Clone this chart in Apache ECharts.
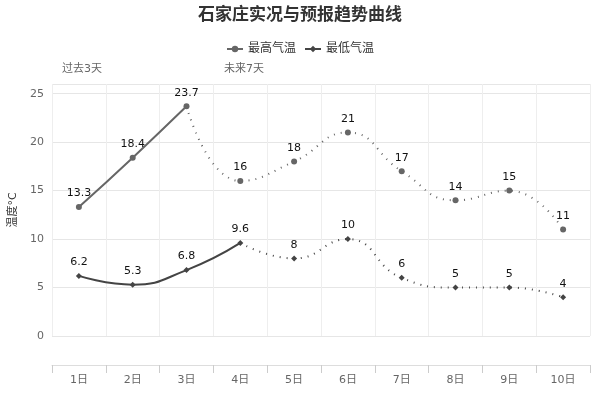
<!DOCTYPE html>
<html><head><meta charset="utf-8">
<script src="https://cdn.jsdelivr.net/npm/echarts@6/dist/echarts.min.js"></script>
<style>html,body{margin:0;padding:0}#c{width:600px;height:400px}</style>
</head><body><div id="c"></div>
<script>
const days = ['1日', '2日', '3日', '4日', '5日', '6日', '7日', '8日', '9日', '10日'];
const highs = [13.3, 18.4, 23.7, 16, 18, 21, 17, 14, 15, 11];
const lows = [6.2, 5.3, 6.8, 9.6, 8, 10, 6, 5, 5, 4];
const highSplit = 2; // last observed index for highs
const lowSplit = 3;  // last observed index for lows

const part = (arr, from, to, skipLabel) => arr.map((v, i) => {
  if (i < from || i > to) return '-';
  if (skipLabel && i === from) return { value: v, label: { show: false }, symbolSize: 0 };
  return v;
});

const chart = echarts.init(document.getElementById('c'));
const font = 'DejaVu Sans, Noto Sans CJK SC, sans-serif';
const lbl = { show: true, position: 'top', color: '#111', fontSize: 11, fontFamily: font };
chart.setOption({
  textStyle: { fontFamily: font },
  title: { text: '石家庄实况与预报趋势曲线', left: 'center', top: 2, textStyle: { fontSize: 17, fontWeight: 'bold', color: '#333' } },
  legend: { data: ['最高气温', '最低气温'], top: 38, left: 'center', itemWidth: 16, itemHeight: 8, textStyle: { fontSize: 12, color: '#333' } },
  graphic: [
    { type: 'text', left: 62, top: 64, style: { text: '过去3天', fill: '#666', fontSize: 11, fontFamily: font } },
    { type: 'text', left: 224, top: 64, style: { text: '未来7天', fill: '#666', fontSize: 11, fontFamily: font } },
  ],
  grid: { left: 52, right: 10, top: 84, bottom: 64 },
  xAxis: {
    type: 'category', data: days, offset: 29,
    axisLine: { show: true, onZero: false, lineStyle: { color: '#ddd' } },
    axisTick: { show: true, length: 8, lineStyle: { color: '#ccc' } },
    axisLabel: { color: '#666', fontSize: 11, margin: 10 },
    splitLine: { show: true, lineStyle: { color: '#eee' } },
  },
  yAxis: {
    type: 'value', min: 0, max: 26, interval: 5,
    name: '温度°C', nameLocation: 'middle', nameGap: 31, nameTextStyle: { color: '#333', fontSize: 11 },
    axisLine: { show: false }, axisTick: { show: false },
    axisLabel: { color: '#666', fontSize: 11 },
    splitLine: { lineStyle: { color: '#e6e6e6' } },
  },
  series: [
    { name: '最高气温', type: 'line', smooth: true, data: part(highs, 0, highSplit), symbol: 'circle', symbolSize: 6,
      itemStyle: { color: '#666' }, lineStyle: { color: '#666', width: 2 }, label: lbl },
    { name: '最高气温', type: 'line', smooth: true, data: part(highs, highSplit, 9, true), symbol: 'circle', symbolSize: 6,
      itemStyle: { color: '#666' }, lineStyle: { color: '#666', width: 2, type: [1, 6] }, label: lbl },
    { name: '最低气温', type: 'line', smooth: true, data: part(lows, 0, lowSplit), symbol: 'diamond', symbolSize: 6,
      itemStyle: { color: '#444' }, lineStyle: { color: '#444', width: 2 }, label: lbl },
    { name: '最低气温', type: 'line', smooth: true, data: part(lows, lowSplit, 9, true), symbol: 'diamond', symbolSize: 6,
      itemStyle: { color: '#444' }, lineStyle: { color: '#444', width: 2, type: [1, 6] }, label: lbl },
  ],
});
</script></body></html>
